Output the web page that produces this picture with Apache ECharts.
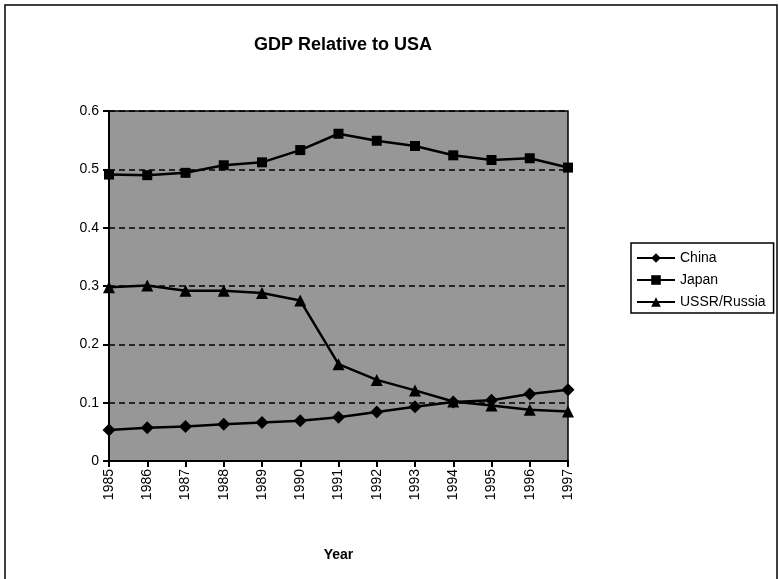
<!DOCTYPE html>
<html>
<head>
<meta charset="utf-8">
<script src="https://cdn.jsdelivr.net/npm/echarts@6/dist/echarts.min.js"></script>
<style>
    html, body { margin: 0; padding: 0; background: #fff; }
    #chart { width: 779px; height: 579px; }
</style>
</head>
<body>
<div id="chart"></div>
<script>
// data
const years = ['1985', '1986', '1987', '1988', '1989', '1990', '1991', '1992', '1993', '1994', '1995', '1996', '1997'];
const china = [0.053, 0.057, 0.059, 0.063, 0.066, 0.069, 0.075, 0.084, 0.093, 0.101, 0.104, 0.115, 0.122];
const japan = [0.491, 0.490, 0.494, 0.507, 0.512, 0.533, 0.561, 0.549, 0.540, 0.524, 0.516, 0.519, 0.503];
const russia = [0.298, 0.301, 0.292, 0.292, 0.288, 0.275, 0.166, 0.139, 0.121, 0.102, 0.095, 0.088, 0.085];
const yTicks = [0, 0.1, 0.2, 0.3, 0.4, 0.5, 0.6];

const font = 'Liberation Sans, Arial, sans-serif';

const chart = echarts.init(document.getElementById('chart'));

function lineSeries(name, data, symbol, size) {
    return {
        name: name,
        type: 'line',
        data: data,
        symbol: symbol,
        symbolSize: size,
        color: '#000',
        lineStyle: { color: '#000', width: 2.5 },
        itemStyle: { color: '#000' },
        animation: false,
    };
}

const option = {
    animation: false,
    textStyle: { fontFamily: font, color: '#000' },
    title: {
        text: 'GDP Relative to USA',
        left: 338,
        top: 31,
        textAlign: 'center',
        textStyle: { fontFamily: font, fontSize: 18, fontWeight: 'bold', color: '#000' },
    },
    // outer chart frame
    graphic: [{
        type: 'rect',
        shape: { x: 5, y: 5, width: 772, height: 600 },
        style: { fill: 'none', stroke: '#000', lineWidth: 1.5 },
        silent: true,
    }],
    legend: {
        orient: 'vertical',
        left: 631,
        top: 243,
        padding: [8, 8, 4, 5],
        itemGap: 8,
        itemWidth: 38,
        itemHeight: 12,
        borderColor: '#000',
        borderWidth: 1.5,
        backgroundColor: '#fff',
        textStyle: { fontFamily: font, fontSize: 14, color: '#000' },
        data: ['China', 'Japan', 'USSR/Russia'],
    },
    grid: {
        show: true,
        left: 109,
        right: 211,
        top: 111,
        bottom: 118,
        backgroundColor: '#979797',
        borderColor: '#000',
        borderWidth: 1.5,
    },
    xAxis: {
        type: 'category',
        data: years,
        boundaryGap: false,
        name: 'Year',
        nameLocation: 'middle',
        nameGap: 87,
        nameTextStyle: { fontFamily: font, fontSize: 14, fontWeight: 'bold', color: '#000' },
        axisLine: { lineStyle: { color: '#000', width: 2 } },
        axisTick: { show: true, interval: 0, length: 6, lineStyle: { color: '#000', width: 2 } },
        axisLabel: { rotate: 90, interval: 0, margin: 8, fontFamily: font, fontSize: 14, color: '#000' },
        splitLine: { show: false },
    },
    yAxis: {
        type: 'value',
        min: yTicks[0],
        max: yTicks[yTicks.length - 1],
        interval: 0.1,
        axisLine: { show: true, lineStyle: { color: '#000', width: 2 } },
        axisTick: { show: true, length: 6, lineStyle: { color: '#000', width: 2 } },
        axisLabel: { margin: 10, fontFamily: font, fontSize: 14, color: '#000' },
        splitLine: { show: true, lineStyle: { color: '#000', width: 1.5, type: [6, 4] } },
    },
    series: [
        lineSeries('China', china, 'diamond', 13),
        lineSeries('Japan', japan, 'rect', 10),
        lineSeries('USSR/Russia', russia, 'triangle', 12),
    ],
};

chart.setOption(option);
</script>
</body>
</html>
